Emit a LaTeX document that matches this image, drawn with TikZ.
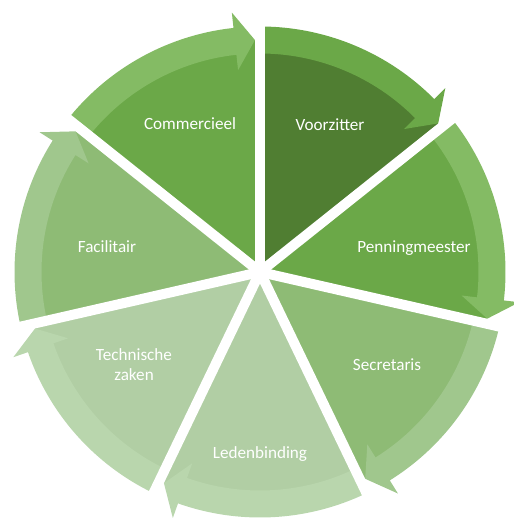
\documentclass[tikz,border=0pt]{standalone}
\usepackage{fontspec}
\setmainfont{Carlito}
\usetikzlibrary{calc}
\definecolor{wA}{HTML}{507E32}
\definecolor{bA}{HTML}{6BA848}
\definecolor{wB}{HTML}{6BA848}
\definecolor{bB}{HTML}{84BB64}
\definecolor{wC}{HTML}{8EBB75}
\definecolor{bC}{HTML}{A0C78D}
\definecolor{wD}{HTML}{B1CEA4}
\definecolor{bD}{HTML}{B9D6AD}
\tikzset{
  lbl/.style={text=white, font=\fontsize{17.2}{20.5}\selectfont, inner sep=0pt, anchor=base, align=center},
  gapline/.style={white, line width=10bp}
}
\begin{document}
\begin{tikzpicture}[x=1bp,y=1bp]
\useasboundingbox (0,0) rectangle (514,518);
\coordinate (c) at (260,246);
\def\Rw{232}\def\Ri{218.5}\def\Ro{245.5}\def\Ra{203}\def\Rb{261}\def\Rm{232}
\foreach \k/\wc/\bc in {0/wA/bA,1/wB/bB,2/wC/bC,3/wD/bD,4/wD/bD,5/wC/bC,6/wB/bB}{
  \pgfmathsetmacro\sa{90-\k*360/7}
  \pgfmathsetmacro\se{90-(\k+1)*360/7}
  \pgfmathsetmacro\sh{\se+6.2}
  \pgfmathsetmacro\st{\se+1.25}
  \fill[\wc] (c) -- ($(c)+(\sa:\Rw)$) arc[start angle=\sa, end angle=\se, radius=\Rw] -- cycle;
  \fill[\bc] ($(c)+(\sa:\Ro)$) arc[start angle=\sa, end angle=\sh, radius=\Ro]
     -- ($(c)+(\sh:\Rb)$) -- ($(c)+(\st:\Rm)$) -- ($(c)+(\sh:\Ra)$)
     -- ($(c)+(\sh:\Ri)$) arc[start angle=\sh, end angle=\sa, radius=\Ri] -- cycle;
}
\foreach \k in {0,...,6}{
  \draw[gapline] (c) -- ($(c)+({90-\k*360/7}:272)$);
}
\node[lbl] (voorz) at (330,387.3) {Voorzitter};
\node[lbl] (penn) at (414,265.3) {Penningmeester};
\node[lbl] (secr) at (387,147) {Secretaris};
\node[lbl] (leden) at (260,59.7) {Ledenbinding};
\node[lbl] (techn) at (134,137) {Technische\\zaken};
\node[lbl] (facil) at (107,265.3) {Facilitair};
\node[lbl] (comm) at (190,388) {Commercieel};
\end{tikzpicture}
\end{document}
